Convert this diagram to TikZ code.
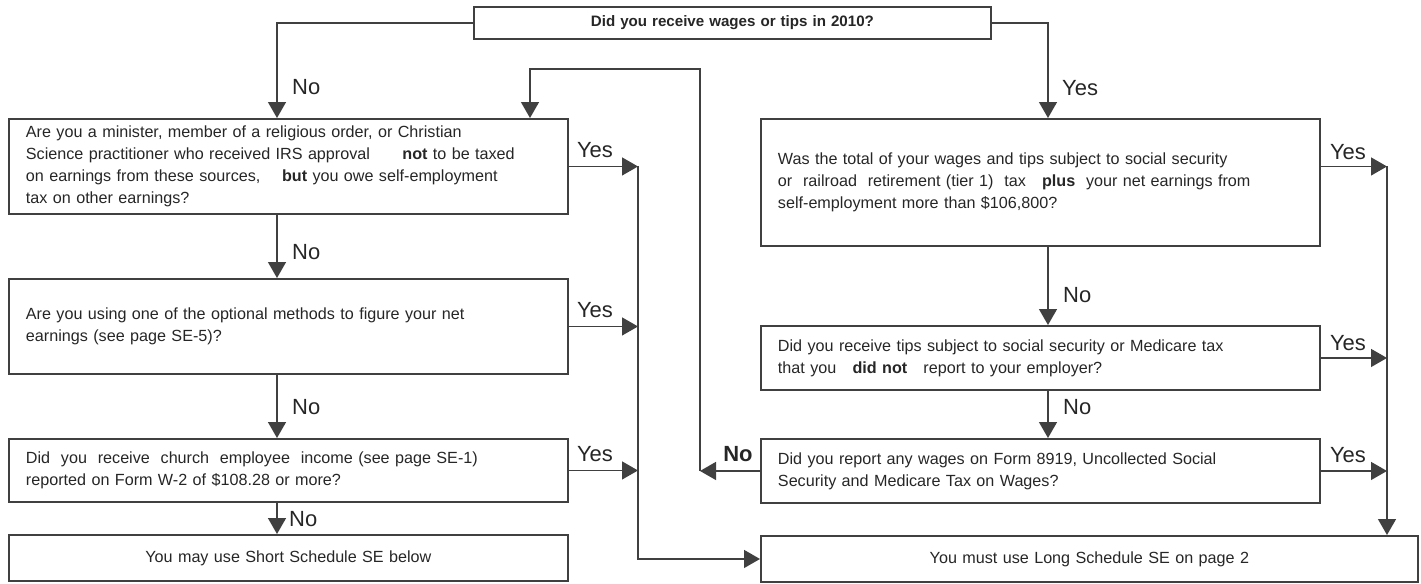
\documentclass[tikz,border=0pt]{standalone}
\usepackage{fontspec}
\setmainfont{Liberation Sans}
\usetikzlibrary{arrows.meta}

\begin{document}
\begin{tikzpicture}[x=0.02cm,y=-0.02cm,
  qbox/.style={draw=black!75,line width=1.1pt,anchor=north west,minimum width=11.18cm,text width=10.5cm,inner xsep=0.34cm,align=left,font=\fontsize{9.2}{12.5}\selectfont,text=black!85},
  arr/.style={-{Triangle[length=0.32cm,width=0.36cm]},draw=black!75,line width=0.8pt},
  lab/.style={font=\fontsize{12.5}{13}\selectfont,text=black!85}]
\useasboundingbox(0,0)rectangle(1421,583);
% the questions
\node[qbox,minimum width=10.34cm,text width=9.66cm,minimum height=0.64cm,align=center,font=\bfseries\fontsize{8.6}{10}\selectfont](wages)at(473,6){Did you receive wages or tips in 2010?};
\node[qbox,minimum height=1.9cm](minister)at(8,118){Are you a minister, member of a religious order, or Christian\\Science practitioner who received IRS approval\qquad\textbf{not} to be taxed\\on earnings from these sources,\quad\ \textbf{but} you owe self-employment\\tax on other earnings?};
\node[qbox,minimum height=1.9cm](optional)at(8,278){Are you using one of the optional methods to figure your net\\earnings (see page SE-5)?};
\node[qbox,minimum height=1.26cm](church)at(8,438){Did\ \ you\ \ receive\ \ church\ \ employee\ \ income (see page SE-1)\\reported on Form W-2 of \$108.28 or more?};
\node[qbox,minimum height=0.92cm,align=center](short)at(8,534){You may use Short Schedule SE below};
\node[qbox,minimum height=2.54cm](total)at(760,118){Was the total of your wages and tips subject to social security\\or\ \ railroad\ \ retirement (tier 1)\ \ tax\quad\textbf{plus}\ \ your net earnings from\\self-employment more than \$106,800?};
\node[qbox,minimum height=1.28cm](tips)at(760,325){Did you receive tips subject to social security or Medicare tax\\that you\quad\textbf{did not}\quad report to your employer?};
\node[qbox,minimum height=1.28cm](form)at(760,438){Did you report any wages on Form 8919, Uncollected Social\\Security and Medicare Tax on Wages?};
\node[qbox,minimum width=13.14cm,text width=12.46cm,minimum height=0.92cm,align=center](long)at(760,535){You must use Long Schedule SE on page 2};
% where the lines run
\coordinate(lx)at(277,0);\coordinate(rx)at(1048,0);\coordinate(yl)at(638,0);\coordinate(yr)at(1387,0);
\coordinate(nl)at(700,0);\coordinate(ax)at(530,0);\coordinate(looptop)at(700,69);
% no branches
\draw[arr](wages.west)-|(minister.north-|lx);\draw[arr](wages.east)-|(total.north-|rx);
\draw[arr](minister.south-|lx)--(optional.north-|lx);\draw[arr](optional.south-|lx)--(church.north-|lx);
\draw[arr](church.south-|lx)--(short.north-|lx);
\draw[arr](total.south-|rx)--(tips.north-|rx);\draw[arr](tips.south-|rx)--(form.north-|rx);
% yes branches
\foreach \q in {minister,optional,church}\draw[arr](\q.east)--(\q.east-|yl);
\draw[arr](total.east|-minister.east)--(minister.east-|yr);
\foreach \q in {tips,form}\draw[arr](\q.east)--(\q.east-|yr);
\draw[arr](minister.east-|yl)|-(long.west);\draw[arr](minister.east-|yr)--(long.north-|yr);
\draw[arr](form.west)--(form.west-|nl);\draw[arr](form.west-|nl)--(looptop)-|(minister.north-|ax);
% labels
\node[lab,anchor=west](noA)at(286,87){No};\node[lab,anchor=west](yesB)at(1056,88){Yes};
\node[lab,anchor=west](noO)at(286,252){No};\node[lab,anchor=west](noC)at(286,407){No};
\node[lab,anchor=west](noS)at(283,519){No};
\node[lab,anchor=west](noT)at(1057,295){No};\node[lab,anchor=west](noF)at(1057,407){No};
\node[lab](yesM)at(595,150){Yes};\node[lab](yesO)at(595,310){Yes};\node[lab](yesC)at(595,454){Yes};
\node[lab](yesT)at(1348,152){Yes};\node[lab](yesD)at(1348,343){Yes};\node[lab](yesF)at(1348,455){Yes};
\node[lab,font=\bfseries\fontsize{12.5}{13}\selectfont](noE)at(738,454){No};
\end{tikzpicture}
\end{document}
